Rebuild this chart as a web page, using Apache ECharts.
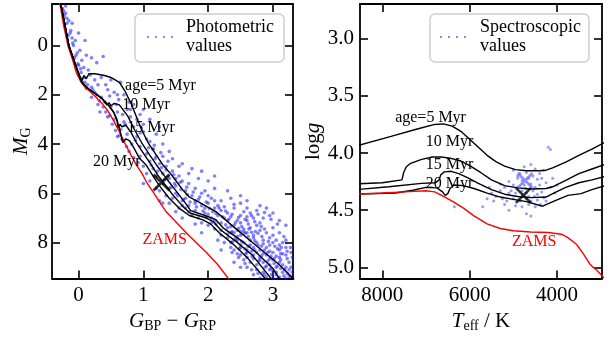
<!DOCTYPE html>
<html><head><meta charset="utf-8">
<script src="https://cdn.jsdelivr.net/npm/echarts@6/dist/echarts.min.js"></script>
<style>html,body{margin:0;padding:0;background:#fff}#c{width:611px;height:338px}</style>
</head><body><div id="c"></div>
<script>
// ---------- data: left panel (colour-magnitude diagram) ----------
const cmdXTicks = [0, 1, 2, 3];
const cmdYTicks = [0, 2, 4, 6, 8];
const photPoints = [
[-0.25,-1.5],[-0.22,-1.2],[-0.2,-1.3],[-0.18,-0.9],[-0.15,-1.0],[-0.12,-0.6],[-0.16,-0.4],[-0.1,-0.3],[-0.08,0.0],[-0.05,-0.2],
[-0.02,0.3],[0.02,0.2],[-0.06,0.5],[0.05,0.6],[0.0,0.8],[0.08,0.9],[0.12,0.4],[0.2,0.5],[0.28,0.7],[0.38,0.45],
[0.15,1.0],[0.04,1.1],[0.1,1.3],[0.18,1.2],[0.06,1.5],[0.14,1.6],[-0.1,-0.9],[0.0,-0.5],[0.1,-0.2],[-0.2,-1.6],
[0.2,1.7],[0.3,1.6],[0.25,1.9],[0.35,2.1],[0.45,1.8],[0.55,1.9],[0.4,2.3],[0.5,2.5],[0.62,2.2],[0.7,2.0],
[0.3,2.4],[0.6,2.7],[0.75,2.6],[0.85,2.4],[0.45,2.9],[0.55,3.0],[0.7,3.1],[0.8,2.9],[0.95,2.8],[0.65,3.4],
[0.75,3.6],[0.85,3.3],[1.0,3.2],[1.1,3.0],[0.9,3.7],[0.6,3.7],[0.7,3.9],[0.82,4.0],[0.95,4.1],[1.05,3.8],
[1.2,3.6],[1.15,4.2],[1.3,4.0],[0.35,1.3],[0.5,1.4],[0.65,1.5],[0.42,1.6],[0.2,2.1],[0.33,2.7],[0.78,2.3],
[1.0,2.6],[0.9,3.0],[1.25,3.3],[0.58,2.4],[0.68,2.8],[1.4,4.3],[0.88,3.85],[0.72,3.2],[0.48,2.05],[0.95,3.55],
[0.95,4.5],[1.05,4.4],[1.1,4.7],[1.2,4.5],[1.0,4.9],[1.15,5.0],[1.25,4.8],[1.3,5.2],[1.35,4.9],[1.45,5.1],
[1.2,5.3],[1.1,5.5],[1.3,5.6],[1.4,5.4],[1.5,5.7],[1.55,5.3],[1.6,5.5],[1.25,5.9],[1.4,5.8],[1.5,6.0],
[1.65,5.9],[1.7,5.6],[1.8,5.8],[1.45,6.2],[1.6,6.3],[1.75,6.1],[1.9,6.0],[1.35,6.1],[1.55,4.9],[1.7,5.2],
[1.85,5.4],[2.0,5.5],[1.05,5.2],[1.6,6.5],[1.15,4.2],[1.3,4.5],[1.45,4.6],[1.6,4.8],[1.75,5.0],[1.25,6.3],
[1.95,5.9],[2.1,5.8],[1.4,6.4],[1.65,6.6],[1.0,5.6],[1.2,5.8],[1.5,5.4],[1.35,5.05],[1.8,6.4],[2.05,6.2],
[1.55,6.6],[1.7,6.5],[1.8,6.7],[1.9,6.5],[2.0,6.4],[2.1,6.6],[1.75,6.9],[1.85,7.0],[1.95,6.8],[2.05,7.0],
[2.15,6.9],[2.2,6.7],[2.3,6.8],[2.4,6.6],[2.5,6.9],[1.9,7.2],[2.0,7.3],[2.1,7.1],[2.2,7.2],[2.3,7.1],
[2.4,7.3],[2.5,7.2],[2.6,7.1],[2.7,7.0],[2.1,7.45],[2.2,7.5],[2.3,7.4],[2.45,7.5],[2.55,7.45],[2.65,7.4],
[2.75,7.3],[1.65,6.2],[1.85,6.25],[2.0,6.1],[2.2,6.3],[2.35,6.2],[2.5,6.4],[2.6,6.6],[2.75,6.7],[2.85,7.0],
[2.95,6.9],[1.95,6.6],[2.15,6.5],[2.25,7.0],[2.35,6.95],[2.45,7.1],[2.0,6.85],[2.1,6.3],[1.8,6.3],[2.65,6.8],
[2.8,7.2],[2.25,6.55],[2.55,6.75],[2.4,6.45],[1.7,6.75],[2.05,7.2],[2.35,7.35],[2.6,6.95],[3.0,7.4],[2.9,6.6],
[2.2,7.7],[2.3,7.8],[2.4,7.6],[2.5,7.7],[2.6,7.6],[2.7,7.7],[2.8,7.5],[2.9,7.6],[3.0,7.7],[2.35,8.0],
[2.45,7.9],[2.55,8.0],[2.65,7.9],[2.75,8.0],[2.85,7.9],[2.95,8.1],[3.05,7.9],[3.15,8.0],[2.4,8.3],[2.5,8.2],
[2.6,8.3],[2.7,8.2],[2.8,8.3],[2.9,8.2],[3.0,8.4],[3.1,8.3],[3.2,8.2],[2.5,8.5],[2.6,8.6],[2.7,8.5],
[2.8,8.6],[2.9,8.5],[3.0,8.7],[3.1,8.6],[3.2,8.5],[3.25,8.8],[2.65,8.8],[2.75,8.9],[2.85,8.8],[2.95,8.9],
[3.05,9.0],[3.15,8.9],[3.25,9.1],[2.75,9.1],[2.85,9.2],[2.95,9.1],[3.05,9.3],[3.15,9.2],[3.25,9.35],[2.9,9.4],
[3.0,9.45],[3.1,9.4],[2.25,8.0],[2.35,8.2],[2.45,8.45],[2.55,8.7],[2.6,9.0],[2.7,9.3],[2.8,9.45],[3.2,9.45],
[2.55,7.55],[2.45,7.75],[2.65,8.1],[2.75,8.4],[2.85,8.05],[2.95,8.35],[3.05,8.55],[3.1,8.1],[3.2,7.9],[3.28,8.4],
[2.8,8.7],[2.9,8.95],[3.0,9.15],[3.1,8.8],[3.2,9.0],[2.7,8.65],[2.6,8.4],[3.3,9.2],[3.3,8.6],[2.95,7.8],
[3.1,7.6],[2.35,7.6],[2.5,8.1],[2.7,7.8],[2.85,8.45],[3.0,8.0],[3.15,8.45],[2.95,8.65],[3.05,9.2],[3.22,8.65],
[2.1,5.3],[2.3,5.9],[2.5,6.1],[2.6,6.3],[2.8,6.5],[3.0,6.8],[3.1,7.1],[3.2,7.3],[1.9,5.1],[1.3,6.4],
[1.6,7.0],[1.9,7.6],[2.2,8.3],[2.5,9.0],[2.4,8.8],[2.15,7.9],[1.8,7.25],[1.5,6.75],
[1.18,4.6],[1.28,4.95],[1.38,5.3],[1.48,5.6],[1.58,5.85],[1.68,6.05],[1.33,5.45],[1.43,5.75],[1.53,6.1],[1.22,5.1],
[1.12,4.85],[1.62,6.25],[1.72,6.35],[1.82,6.55],[1.47,5.25],[1.57,5.55],[1.67,5.75],[1.77,5.95],[1.87,6.15],[1.97,6.35],
[1.38,4.7],[1.27,4.35],[1.17,4.05],[1.08,4.15],
[1.92,6.72],[2.02,6.62],[2.12,6.82],[2.22,6.95],[2.32,7.05],[2.42,7.2],[2.52,7.35],[2.62,7.25],[2.72,7.15],[2.82,7.35],
[2.12,7.25],[2.27,7.28],[2.37,7.55],[2.47,7.42],[2.57,7.62],[2.67,7.58],[2.77,7.62],[2.87,7.45],[1.97,6.98],[2.07,6.75],
[2.17,6.6],[2.27,6.72],[2.37,6.85],[2.47,6.98],[2.57,7.05],[2.67,6.9],[2.77,6.85],[2.87,6.78],[2.97,7.05],[3.07,7.25],
[2.3,7.65],[2.42,7.85],[2.52,7.95],[2.62,8.15],[2.72,8.3],[2.82,8.55],[2.92,8.75],[3.02,8.85],[3.12,9.05],[3.22,9.25],
[2.38,7.95],[2.48,8.25],[2.58,8.45],[2.68,8.55],[2.78,8.75],[2.88,9.0],[2.98,9.3],[3.08,9.45],[2.62,7.75],[2.72,7.92],
[2.82,8.15],[2.92,8.4],[3.02,8.65],[3.12,8.7],[3.18,9.1],[3.28,9.0],[3.27,8.2],[3.17,7.75],[3.07,8.25],[2.97,8.55],
[2.87,8.3],[2.77,8.1],[2.67,8.35],[2.57,8.25],[2.87,9.3],[2.97,9.05],[3.07,8.95],[3.17,9.35],[3.27,9.4],[2.77,9.25],
[2.67,9.1],[2.57,8.85],[2.47,8.6],[2.37,8.4],[3.12,8.45],[3.22,8.35],[2.93,7.95],[3.03,8.15],[3.13,8.2],[2.83,7.75],
[2.73,7.55],[2.63,7.45],[2.5,7.55],
[0.0,1.2],[0.05,1.35],[0.1,1.5],[0.12,1.75],[0.22,1.8],[0.28,2.0],[0.32,2.25],[0.38,2.5],[0.42,2.7],[0.48,2.85],
[0.52,3.2],[0.57,3.45],[0.63,3.65],[0.67,3.8],[0.74,4.1],[0.78,4.3],[0.85,4.55],[0.92,4.75],[-0.13,-0.5],[-0.09,-0.1],
[-0.04,0.4],[-0.01,0.75],[0.03,0.95],[-0.18,-1.1],[-0.23,-1.4],[0.6,2.0],[0.8,2.6],[1.0,3.5],[1.1,3.9],[0.25,1.4]
];
const cmdZAMS = [[-0.3,-1.9],[-0.23,-0.8],[-0.165,0],[-0.09,0.6],[-0.035,1.1],[0.03,1.45],[0.1,1.7],[0.17,1.85],[0.27,2.1],[0.37,2.38],[0.45,2.65],[0.53,3.0],[0.63,3.5],[0.71,3.95],[0.81,4.45],[0.89,4.84],[0.98,5.2],[1.06,5.6],[1.14,5.9],[1.25,6.35],[1.35,6.74],[1.5,7.15],[1.71,7.73],[1.97,8.39],[2.15,8.9],[2.34,9.55]];
const cmdIso5 = [[-0.29,-1.9],[-0.15,0],[-0.02,1.0],[0.05,1.45],[0.08,1.22],[0.12,1.35],[0.16,1.15],[0.25,1.15],[0.4,1.22],[0.5,1.3],[0.63,1.5],[0.71,1.82],[0.81,2.35],[0.89,2.87],[0.97,3.4],[1.07,3.93],[1.2,4.45],[1.3,4.84],[1.42,5.2],[1.52,5.55],[1.62,5.9],[1.71,6.15],[1.9,6.42],[2.12,6.74],[2.38,7.33],[2.74,8.12],[3.1,8.9],[3.35,9.55]];
const cmdIso10 = [[-0.29,-1.9],[-0.15,0],[-0.02,1.0],[0.05,1.5],[0.15,1.76],[0.26,1.96],[0.36,2.15],[0.44,2.42],[0.47,2.32],[0.5,2.45],[0.55,2.35],[0.63,2.41],[0.76,2.87],[0.86,3.4],[0.97,3.93],[1.1,4.45],[1.2,4.84],[1.3,5.2],[1.4,5.55],[1.52,5.95],[1.65,6.4],[1.73,6.7],[1.95,6.9],[2.12,7.07],[2.23,7.4],[2.48,7.86],[2.74,8.39],[3.0,9.05],[3.12,9.55]];
const cmdIso15 = [[-0.29,-1.9],[-0.15,0],[-0.02,1.0],[0.05,1.5],[0.15,1.76],[0.26,1.96],[0.36,2.15],[0.46,2.42],[0.54,2.7],[0.59,3.0],[0.61,3.33],[0.64,3.2],[0.67,3.3],[0.73,3.24],[0.81,3.53],[0.89,3.93],[1.02,4.45],[1.12,4.84],[1.22,5.25],[1.32,5.6],[1.45,6.05],[1.6,6.5],[1.72,6.8],[1.95,6.98],[2.08,7.15],[2.2,7.5],[2.43,7.95],[2.68,8.5],[3.0,9.55]];
const cmdIso20 = [[-0.29,-1.9],[-0.15,0],[-0.02,1.0],[0.05,1.5],[0.15,1.76],[0.26,1.96],[0.36,2.15],[0.46,2.42],[0.54,2.7],[0.59,3.0],[0.64,3.45],[0.68,3.93],[0.73,3.79],[0.79,3.87],[0.86,4.19],[0.94,4.58],[1.04,4.84],[1.15,5.3],[1.25,5.7],[1.4,6.2],[1.55,6.6],[1.71,6.9],[1.92,7.08],[2.04,7.25],[2.17,7.6],[2.38,8.05],[2.6,8.6],[2.91,9.55]];
const cmdStar = [[1.28, 5.56]];
const cmdLabelText = ['age=5 Myr', '10 Myr', '15 Myr', '20 Myr'];
const cmdLabelPos = [[1.265, 1.65], [1.04, 2.4], [1.12, 3.35], [0.59, 4.72]];
const cmdZamsLabelPos = [[1.33, 7.9]];

// ---------- data: right panel (Kiel diagram) ----------
const hrdXTicks = [8000, 6000, 4000];
const hrdYTicks = [3.0, 3.5, 4.0, 4.5, 5.0];
const specPoints = [
[4200,3.95],[4150,3.97],[4750,4.12],[4600,4.10],[5000,4.15],[4850,4.18],[4700,4.17],[4500,4.14],[4400,4.18],[4300,4.15],
[4900,4.22],[4800,4.24],[4650,4.22],[4550,4.20],[4450,4.23],[4350,4.22],[5100,4.25],[5000,4.28],[4900,4.30],[4750,4.28],
[4600,4.27],[4500,4.30],[4400,4.28],[4250,4.26],[5200,4.30],[5300,4.33],[5100,4.35],[4950,4.35],[4800,4.33],[4700,4.35],
[4550,4.33],[4450,4.36],[4350,4.34],[4150,4.30],[5400,4.38],[5250,4.40],[5000,4.40],[4850,4.42],[4700,4.40],[4600,4.42],
[4450,4.41],[4300,4.39],[5500,4.35],[5450,4.42],[5200,4.45],[4950,4.46],[4800,4.47],[4650,4.45],[4500,4.47],[5600,4.40],
[5100,4.50],[4700,4.53],[4600,4.55],[6350,4.47],[5700,4.47],[4100,4.22],[4050,4.35],[4900,4.20],[5300,4.27],[4650,4.38],
[4780,4.37],[4720,4.31],[4520,4.38],[4380,4.45],[5050,4.33],[5150,4.42],[4250,4.42],[4000,4.28],[5550,4.30]
];
const hrdZAMS = [[8600,4.36],[8000,4.35],[7500,4.34],[7000,4.33],[6800,4.34],[6600,4.38],[6400,4.42],[6150,4.48],[5900,4.55],[5600,4.62],[5300,4.66],[5000,4.68],[4600,4.69],[4200,4.695],[3900,4.71],[3750,4.74],[3550,4.80],[3400,4.88],[3250,4.97],[3170,5.0],[3100,5.02],[2900,5.1]];
const hrdIso5 = [[8600,3.94],[7800,3.855],[7200,3.79],[6800,3.75],[6600,3.745],[6400,3.765],[6200,3.81],[6000,3.88],[5800,3.95],[5600,4.02],[5400,4.075],[5200,4.115],[4950,4.145],[4700,4.155],[4400,4.155],[4250,4.15],[4100,4.13],[3800,4.08],[3500,4.02],[3200,3.965],[2900,3.905]];
const hrdIso10 = [[8600,4.27],[8000,4.26],[7550,4.235],[7510,4.17],[7450,4.12],[7350,4.09],[7100,4.055],[6850,4.035],[6650,4.035],[6450,4.045],[6200,4.07],[6000,4.11],[5750,4.17],[5500,4.235],[5200,4.285],[4900,4.305],[4600,4.315],[4250,4.31],[4100,4.295],[3800,4.24],[3500,4.18],[3200,4.14],[2900,4.1]];
const hrdIso15 = [[8600,4.32],[7850,4.295],[7100,4.265],[6780,4.26],[6700,4.235],[6660,4.19],[6580,4.165],[6420,4.16],[6250,4.18],[6050,4.215],[5800,4.265],[5500,4.32],[5200,4.36],[4900,4.38],[4600,4.39],[4250,4.385],[4120,4.36],[3800,4.3],[3500,4.26],[3200,4.235],[2900,4.205]];
const hrdIso20 = [[8600,4.36],[7700,4.35],[7300,4.325],[7000,4.3],[6750,4.305],[6620,4.34],[6560,4.37],[6500,4.355],[6450,4.31],[6350,4.28],[6150,4.285],[5900,4.31],[5600,4.35],[5300,4.385],[5000,4.405],[4700,4.425],[4330,4.465],[4000,4.41],[3750,4.37],[3450,4.355],[3200,4.32],[2900,4.285]];
const hrdStarPhot = [[4769, 4.37]];
const hrdStarSpec = [[4731, 4.24]];
const hrdLabelText = ['age=5 Myr', '10 Myr', '15 Myr', '20 Myr'];
const hrdLabelPos = [[6895, 3.696], [6459, 3.906], [6459, 4.10], [6459, 4.265]];
const hrdZamsLabelPos = [[4521, 4.78]];

// ---------- chart ----------
const FONT = 'Liberation Serif';
const AX = '#000';
const XSYM = 'path://M0,0L10,10M10,0L0,10';
const DOTS = 'path://M0,0h2v2h-2zM8,0h2v2h-2zM16,0h2v2h-2zM24,0h2v2h-2z';
const rich = {
  i: {fontFamily: FONT, fontStyle: 'italic', fontSize: 21, lineHeight: 24, color: '#000'},
  n: {fontFamily: FONT, fontSize: 21, lineHeight: 24, color: '#000'},
  s: {fontFamily: FONT, fontSize: 14, lineHeight: 10, verticalAlign: 'bottom', color: '#000'}
};
function axisCommon(ticks, fmt, showLabel, margin) {
  return {
    axisLine: {show: true, onZero: false, lineStyle: {color: AX, width: 1.8}},
    axisTick: {show: true, inside: true, length: 8, customValues: ticks, lineStyle: {color: AX, width: 1.6}},
    axisLabel: {show: showLabel, customValues: ticks, margin: margin, fontFamily: FONT, fontSize: 21, color: '#000', formatter: fmt},
    splitLine: {show: false}
  };
}
const intFmt = v => String(Math.round(v));
const oneFmt = v => v.toFixed(1);

function lineSeries(data, color, xi, yi, z) {
  return {type: 'line', data: data, xAxisIndex: xi, yAxisIndex: yi, showSymbol: false, symbol: 'none',
          lineStyle: {color: color, width: 1.4}, z: z, silent: true, animation: false};
}
function labelSeries(text, pos, color, xi, yi) {
  return {type: 'scatter', xAxisIndex: xi, yAxisIndex: yi, symbolSize: 1, itemStyle: {color: 'transparent'}, z: 6, silent: true,
          data: text.map((t, k) => ({name: t, value: pos[k]})),
          label: {show: true, position: 'inside', formatter: p => p.name, fontFamily: FONT, fontSize: 16, color: color,
                  textBorderWidth: 0, textShadowBlur: 0, opacity: 1}};
}

const option = {
  animation: false,
  backgroundColor: '#fff',
  grid: [
    {left: 52, top: 4, width: 241, height: 283},
    {left: 360, top: 4, width: 242, height: 283}
  ],
  xAxis: [
    Object.assign({type: 'value', gridIndex: 0, position: 'bottom', min: -0.41, max: 3.31,
      name: '{i|G}{s|BP}{n| − }{i|G}{s|RP}', nameLocation: 'middle', nameGap: 24, nameTextStyle: {rich: rich}},
      axisCommon(cmdXTicks, intFmt, true, 6)),
    Object.assign({type: 'value', gridIndex: 0, position: 'top', min: -0.41, max: 3.31}, axisCommon(cmdXTicks, intFmt, false, 6)),
    Object.assign({type: 'value', gridIndex: 1, position: 'bottom', min: 2970, max: 8510, inverse: true,
      name: '{i|T}{s|eff}{n| / K}', nameLocation: 'middle', nameGap: 24, nameTextStyle: {rich: rich}},
      axisCommon(hrdXTicks, intFmt, true, 6)),
    Object.assign({type: 'value', gridIndex: 1, position: 'top', min: 2970, max: 8510, inverse: true}, axisCommon(hrdXTicks, intFmt, false, 6))
  ],
  yAxis: [
    Object.assign({type: 'value', gridIndex: 0, position: 'left', min: -1.68, max: 9.46, inverse: true,
      name: '{i|M}{s|G}', nameLocation: 'middle', nameGap: 18, nameRotate: 90, nameTextStyle: {rich: rich}},
      axisCommon(cmdYTicks, intFmt, true, 4)),
    Object.assign({type: 'value', gridIndex: 0, position: 'right', min: -1.68, max: 9.46, inverse: true}, axisCommon(cmdYTicks, intFmt, false, 4)),
    Object.assign({type: 'value', gridIndex: 1, position: 'left', min: 2.697, max: 5.098, inverse: true,
      name: '{n|log}{i|g}', nameLocation: 'middle', nameGap: 35, nameRotate: 90, nameTextStyle: {rich: rich}},
      axisCommon(hrdYTicks, oneFmt, true, 6)),
    Object.assign({type: 'value', gridIndex: 1, position: 'right', min: 2.697, max: 5.098, inverse: true}, axisCommon(hrdYTicks, oneFmt, false, 6))
  ],
  legend: [
    {data: [{name: 'Photometric\nvalues', icon: DOTS, itemStyle: {color: 'rgba(70,70,255,0.8)'}}],
     left: 135, top: 14, orient: 'vertical', itemWidth: 26, itemHeight: 2, selectedMode: false,
     padding: [4, 10, 6, 12], borderColor: '#cfcfcf', borderWidth: 1.5, borderRadius: 5, backgroundColor: 'rgba(255,255,255,0.85)',
     textStyle: {fontFamily: FONT, fontSize: 18, lineHeight: 19, color: '#000', padding: [0, 0, 0, 8]}},
    {data: [{name: 'Spectroscopic\nvalues', icon: DOTS, itemStyle: {color: 'rgba(70,70,255,0.8)'}}],
     left: 430, top: 14, orient: 'vertical', itemWidth: 26, itemHeight: 2, selectedMode: false,
     padding: [4, 8, 6, 10], borderColor: '#cfcfcf', borderWidth: 1.5, borderRadius: 5, backgroundColor: 'rgba(255,255,255,0.85)',
     textStyle: {fontFamily: FONT, fontSize: 18, lineHeight: 19, color: '#000', padding: [0, 0, 0, 9]}}
  ],
  series: [
    {name: 'Photometric\nvalues', type: 'scatter', xAxisIndex: 0, yAxisIndex: 0, data: photPoints, symbol: 'circle', symbolSize: 3.6,
     itemStyle: {color: 'rgba(20,20,255,0.68)'}, z: 1, silent: true},
    lineSeries(cmdIso5, '#000', 0, 0, 3), lineSeries(cmdIso10, '#000', 0, 0, 3),
    lineSeries(cmdIso15, '#000', 0, 0, 3), lineSeries(cmdIso20, '#000', 0, 0, 3),
    lineSeries(cmdZAMS, '#ff0000', 0, 0, 2),
    {type: 'scatter', xAxisIndex: 0, yAxisIndex: 0, data: cmdStar, symbol: XSYM, symbolSize: 16,
     itemStyle: {color: 'transparent', borderColor: '#000', borderWidth: 2.6}, z: 5, silent: true},
    labelSeries(cmdLabelText, cmdLabelPos, '#000', 0, 0),
    labelSeries(['ZAMS'], cmdZamsLabelPos, '#ff0000', 0, 0),

    {name: 'Spectroscopic\nvalues', type: 'scatter', xAxisIndex: 2, yAxisIndex: 2, data: specPoints, symbol: 'circle', symbolSize: 3,
     itemStyle: {color: 'rgba(60,60,255,0.65)'}, z: 1, silent: true},
    lineSeries(hrdIso5, '#000', 2, 2, 3), lineSeries(hrdIso10, '#000', 2, 2, 3),
    lineSeries(hrdIso15, '#000', 2, 2, 3), lineSeries(hrdIso20, '#000', 2, 2, 3),
    lineSeries(hrdZAMS, '#ff0000', 2, 2, 4),
    {type: 'scatter', xAxisIndex: 2, yAxisIndex: 2, data: hrdStarSpec, symbol: XSYM, symbolSize: 15,
     itemStyle: {color: 'transparent', borderColor: 'rgba(100,100,255,0.9)', borderWidth: 2.6}, z: 5, silent: true},
    {type: 'scatter', xAxisIndex: 2, yAxisIndex: 2, data: hrdStarPhot, symbol: XSYM, symbolSize: 15,
     itemStyle: {color: 'transparent', borderColor: '#000', borderWidth: 2.6}, z: 5, silent: true},
    labelSeries(hrdLabelText, hrdLabelPos, '#000', 2, 2),
    labelSeries(['ZAMS'], hrdZamsLabelPos, '#ff0000', 2, 2)
  ]
};
const chart = echarts.init(document.getElementById('c'), null, {renderer: 'canvas'});
chart.setOption(option);
</script></body></html>
